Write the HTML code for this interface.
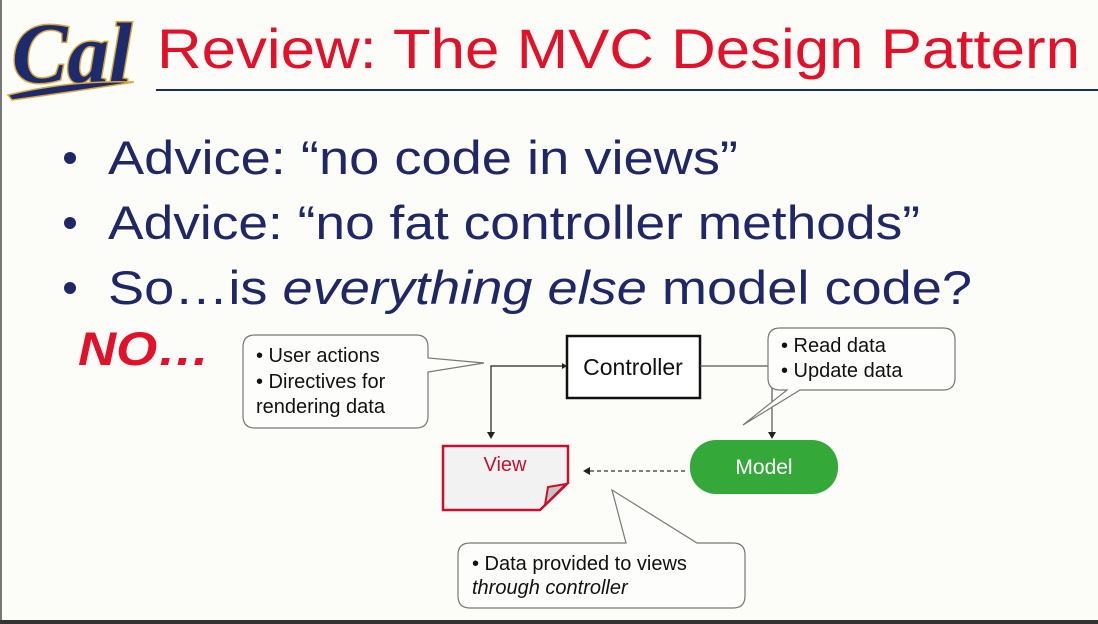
<!DOCTYPE html>
<html><head><meta charset="utf-8"><style>
html,body{margin:0;padding:0;background:#fcfcf8;}
svg{display:block;}
.s{font-family:"Liberation Sans",Arial,sans-serif;}
.serif{font-family:"Liberation Serif","DejaVu Serif",serif;}
</style></head><body>
<svg width="1098" height="624" viewBox="0 0 1098 624" xmlns="http://www.w3.org/2000/svg">
<rect width="1098" height="624" fill="#fcfcf8"/>
<rect x="0" y="0" width="2" height="624" fill="#777"/>
<rect x="0" y="620" width="1098" height="4" fill="#333"/>
<!-- Cal logo -->
<text class="serif" x="72" y="82" text-anchor="middle" font-style="italic" font-weight="bold" font-size="86" fill="#1d2a6e" stroke="#d9a83a" stroke-width="3" paint-order="stroke" textLength="120" lengthAdjust="spacingAndGlyphs">Cal</text>
<path d="M8 95 Q70 80 134 82 Q84 90 12 100 Z" fill="#1d2a6e" stroke="#d9a83a" stroke-width="1.5"/>
<!-- Title -->
<text class="s" x="157" y="68" font-size="56" fill="#e3102a" textLength="923" lengthAdjust="spacingAndGlyphs">Review: The MVC Design Pattern</text>
<line x1="156" y1="90" x2="1098" y2="90" stroke="#1c2a55" stroke-width="2"/>
<!-- bullets -->
<g class="s" fill="#1f2766" font-size="47">
<circle cx="70" cy="158" r="6"/><circle cx="70" cy="223" r="6"/><circle cx="70" cy="288" r="6"/>
<text x="108" y="174" textLength="630" lengthAdjust="spacingAndGlyphs">Advice: “no code in views”</text>
<text x="108" y="239" textLength="812" lengthAdjust="spacingAndGlyphs">Advice: “no fat controller methods”</text>
<text x="108" y="304" textLength="864" lengthAdjust="spacingAndGlyphs">So…is <tspan font-style="italic">everything else</tspan> model code?</text>
</g>
<text class="s" x="78" y="365" font-size="47" font-weight="bold" font-style="italic" fill="#e3102a" textLength="132" lengthAdjust="spacingAndGlyphs">NO…</text>
<!-- left callout -->
<path d="M255 335 H416 Q428 335 428 347 V358 L484 363 L428 372 V416 Q428 428 416 428 H255 Q243 428 243 416 V347 Q243 335 255 335 Z" fill="#fdfdfb" stroke="#777" stroke-width="1.2"/>
<g class="s" font-size="20" fill="#111">
<text x="256" y="362">• User actions</text>
<text x="256" y="388">• Directives for</text>
<text x="256" y="413">rendering data</text>
</g>
<!-- controller -->
<rect x="567" y="336" width="133" height="62" fill="#fff" stroke="#111" stroke-width="2.5"/>
<text class="s" x="633" y="375" text-anchor="middle" font-size="23" fill="#111">Controller</text>
<path d="M567 366 H491 V434" fill="none" stroke="#222" stroke-width="1.2"/>
<path d="M487 432 L491 439 L495 432 Z" fill="#222"/>
<path d="M562 363 L567 366 L562 369 Z" fill="#222"/>
<path d="M700 366 H772 V434" fill="none" stroke="#555" stroke-width="1.2"/>
<path d="M768 432 L772 439 L776 432 Z" fill="#222"/>
<!-- right callout -->
<path d="M780 328 H943 Q955 328 955 340 V378 Q955 390 943 390 H800 L743 425 L787 390 H780 Q768 390 768 378 V340 Q768 328 780 328 Z" fill="#fdfdfb" stroke="#777" stroke-width="1.2"/>
<g class="s" font-size="20" fill="#111">
<text x="781" y="352">• Read data</text>
<text x="781" y="377">• Update data</text>
</g>
<!-- view -->
<path d="M443 446 H568 V483 L540 510 H443 Z" fill="#f2f2f2" stroke="#c8102e" stroke-width="2.5"/>
<path d="M545 505 L548 487 L566 484 Z" fill="#c4c4c4" stroke="#c8102e" stroke-width="2"/>
<text class="s" x="505" y="471" text-anchor="middle" font-size="20" fill="#c8102e">View</text>
<!-- model -->
<rect x="690" y="440" width="148" height="54" rx="26" fill="#35a83a"/>
<text class="s" x="764" y="474" text-anchor="middle" font-size="21" fill="#fff">Model</text>
<line x1="685" y1="471" x2="590" y2="471" stroke="#333" stroke-width="1.2" stroke-dasharray="4,3"/>
<path d="M590 467 L583 471 L590 475 Z" fill="#222"/>
<!-- bottom callout -->
<path d="M470 543 H626 L612 490 L697 543 H733 Q745 543 745 555 V596 Q745 608 733 608 H470 Q458 608 458 596 V555 Q458 543 470 543 Z" fill="#fdfdfb" stroke="#777" stroke-width="1.2"/>
<g class="s" font-size="20" fill="#111">
<text x="472" y="570">• Data provided to views</text>
<text x="472" y="594" font-style="italic">through controller</text>
</g>
</svg>
</body></html>
